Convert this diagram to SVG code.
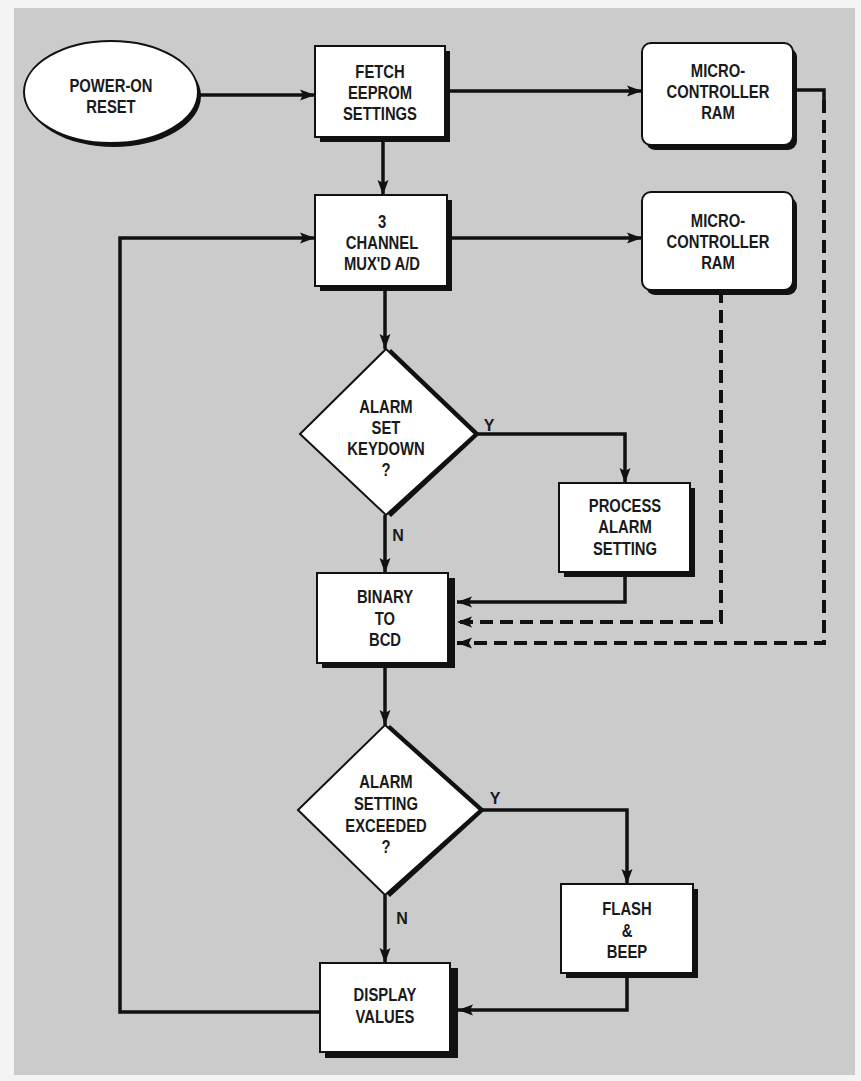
<svg xmlns="http://www.w3.org/2000/svg" width="861" height="1081" viewBox="0 0 861 1081">
<style>
.bg{fill:#cbcbcb}
.sh{fill:#111}
.bx{fill:#fff;stroke:#111;stroke-width:2}
.t{font-family:"Liberation Sans",Arial,sans-serif;font-weight:bold;font-size:18.5px;fill:#1a1a1a;text-anchor:middle}
.lb{font-family:"Liberation Sans",Arial,sans-serif;font-weight:bold;font-size:16px;fill:#1a1a1a;text-anchor:middle}
.ln{fill:none;stroke:#111;stroke-width:3.5;stroke-linejoin:miter}
.ds{fill:none;stroke:#111;stroke-width:4;stroke-dasharray:13 7}
</style>
<defs>
<marker id="ah" markerUnits="userSpaceOnUse" markerWidth="16" markerHeight="12" refX="15" refY="6" orient="auto">
<path d="M0,0.5 L15,6 L0,11.5 L3,6 z" fill="#111"/>
</marker>
</defs>
<rect x="0" y="0" width="861" height="1081" fill="#f4f4f4"/>
<rect class="bg" x="14" y="8" width="841" height="1067"/>

<g id="connectors">
<path class="ln" d="M198,95 L315,95" marker-end="url(#ah)"/>
<path class="ln" d="M450,91 L642,91" marker-end="url(#ah)"/>
<path class="ln" d="M383,142 L383,195" marker-end="url(#ah)"/>
<path class="ln" d="M452,238 L642,238" marker-end="url(#ah)"/>
<path class="ln" d="M385,291 L385,349" marker-end="url(#ah)"/>
<path class="ln" d="M475,434 L625,434 L625,483" marker-end="url(#ah)"/>
<path class="ln" d="M385,515 L385,573" marker-end="url(#ah)"/>
<path class="ln" d="M625,577 L625,602 L457,602" marker-end="url(#ah)"/>
<path class="ds" d="M721,290 L721,622 L457,622" marker-end="url(#ah)"/>
<path class="ln" d="M793,90 L824,90 L824,100"/>
<path class="ds" d="M824,100 L824,643 L457,643" marker-end="url(#ah)"/>
<path class="ln" d="M385,668 L385,725" marker-end="url(#ah)"/>
<path class="ln" d="M480,810 L627,810 L627,884" marker-end="url(#ah)"/>
<path class="ln" d="M385,895 L385,963" marker-end="url(#ah)"/>
<path class="ln" d="M627,978 L627,1010 L458,1010" marker-end="url(#ah)"/>
<path class="ln" d="M320,1012 L120,1012 L120,238 L315,238" marker-end="url(#ah)"/>
<text class="lb" x="489" y="431">Y</text>
<text class="lb" x="398" y="541">N</text>
<text class="lb" x="495" y="804">Y</text>
<text class="lb" x="402" y="924">N</text>
</g>

<g id="power-on-reset">
<ellipse class="sh" cx="114" cy="96" rx="87" ry="51"/>
<ellipse class="bx" cx="111" cy="92" rx="87" ry="51"/>
<g transform="translate(111 0) scale(0.8 1) translate(-111 0)">
<text class="t" x="111" y="92">POWER-ON</text>
<text class="t" x="111" y="113">RESET</text>
</g>
</g>

<g id="fetch-eeprom">
<rect class="sh" x="320" y="51" width="130" height="91"/>
<rect class="bx" x="315" y="46" width="130" height="91"/>
<g transform="translate(380 0) scale(0.8 1) translate(-380 0)">
<text class="t" x="380" y="78">FETCH</text>
<text class="t" x="380" y="99">EEPROM</text>
<text class="t" x="380" y="120">SETTINGS</text>
</g>
</g>

<g id="ram-1">
<rect class="sh" x="646" y="48" width="151" height="102" rx="9"/>
<rect class="bx" x="642" y="43" width="151" height="102" rx="9"/>
<g transform="translate(718 0) scale(0.8 1) translate(-718 0)">
<text class="t" x="718" y="77">MICRO-</text>
<text class="t" x="718" y="98">CONTROLLER</text>
<text class="t" x="718" y="119">RAM</text>
</g>
</g>

<g id="mux-ad">
<rect class="sh" x="320" y="200" width="132" height="91"/>
<rect class="bx" x="315" y="195" width="132" height="91"/>
<g transform="translate(382 0) scale(0.8 1) translate(-382 0)">
<text class="t" x="382" y="228">3</text>
<text class="t" x="382" y="249">CHANNEL</text>
<text class="t" x="382" y="270">MUX'D A/D</text>
</g>
</g>

<g id="ram-2">
<rect class="sh" x="646" y="197" width="151" height="98" rx="9"/>
<rect class="bx" x="642" y="192" width="151" height="98" rx="9"/>
<g transform="translate(718 0) scale(0.8 1) translate(-718 0)">
<text class="t" x="718" y="227">MICRO-</text>
<text class="t" x="718" y="248">CONTROLLER</text>
<text class="t" x="718" y="269">RAM</text>
</g>
</g>

<g id="alarm-set-keydown">
<polygon class="sh" points="391,349 480,434 391,517 305,434"/>
<polygon class="bx" points="386,349 475,434 386,515 300,434"/>
<g transform="translate(386 0) scale(0.8 1) translate(-386 0)">
<text class="t" x="386" y="413">ALARM</text>
<text class="t" x="386" y="434">SET</text>
<text class="t" x="386" y="455">KEYDOWN</text>
<text class="t" x="386" y="476">?</text>
</g>
</g>

<g id="process-alarm">
<rect class="sh" x="564" y="488" width="131" height="89"/>
<rect class="bx" x="559" y="483" width="131" height="89"/>
<g transform="translate(625 0) scale(0.8 1) translate(-625 0)">
<text class="t" x="625" y="512">PROCESS</text>
<text class="t" x="625" y="533">ALARM</text>
<text class="t" x="625" y="555">SETTING</text>
</g>
</g>

<g id="binary-bcd">
<rect class="sh" x="322" y="578" width="133" height="90"/>
<rect class="bx" x="317" y="573" width="131" height="90"/>
<g transform="translate(385 0) scale(0.8 1) translate(-385 0)">
<text class="t" x="385" y="603">BINARY</text>
<text class="t" x="385" y="625">TO</text>
<text class="t" x="385" y="646">BCD</text>
</g>
</g>

<g id="alarm-exceeded">
<polygon class="sh" points="390,725 485,810 390,897 303,810"/>
<polygon class="bx" points="385,725 480,810 385,895 298,810"/>
<g transform="translate(386 0) scale(0.8 1) translate(-386 0)">
<text class="t" x="386" y="788">ALARM</text>
<text class="t" x="386" y="810">SETTING</text>
<text class="t" x="386" y="832">EXCEEDED</text>
<text class="t" x="386" y="853">?</text>
</g>
</g>

<g id="flash-beep">
<rect class="sh" x="566" y="889" width="132" height="89"/>
<rect class="bx" x="561" y="884" width="132" height="89"/>
<g transform="translate(627 0) scale(0.8 1) translate(-627 0)">
<text class="t" x="627" y="915">FLASH</text>
<text class="t" x="627" y="937">&amp;</text>
<text class="t" x="627" y="958">BEEP</text>
</g>
</g>

<g id="display-values">
<rect class="sh" x="325" y="968" width="133" height="90"/>
<rect class="bx" x="320" y="963" width="130" height="89"/>
<g transform="translate(385 0) scale(0.8 1) translate(-385 0)">
<text class="t" x="385" y="1001">DISPLAY</text>
<text class="t" x="385" y="1023">VALUES</text>
</g>
</g>
</svg>
